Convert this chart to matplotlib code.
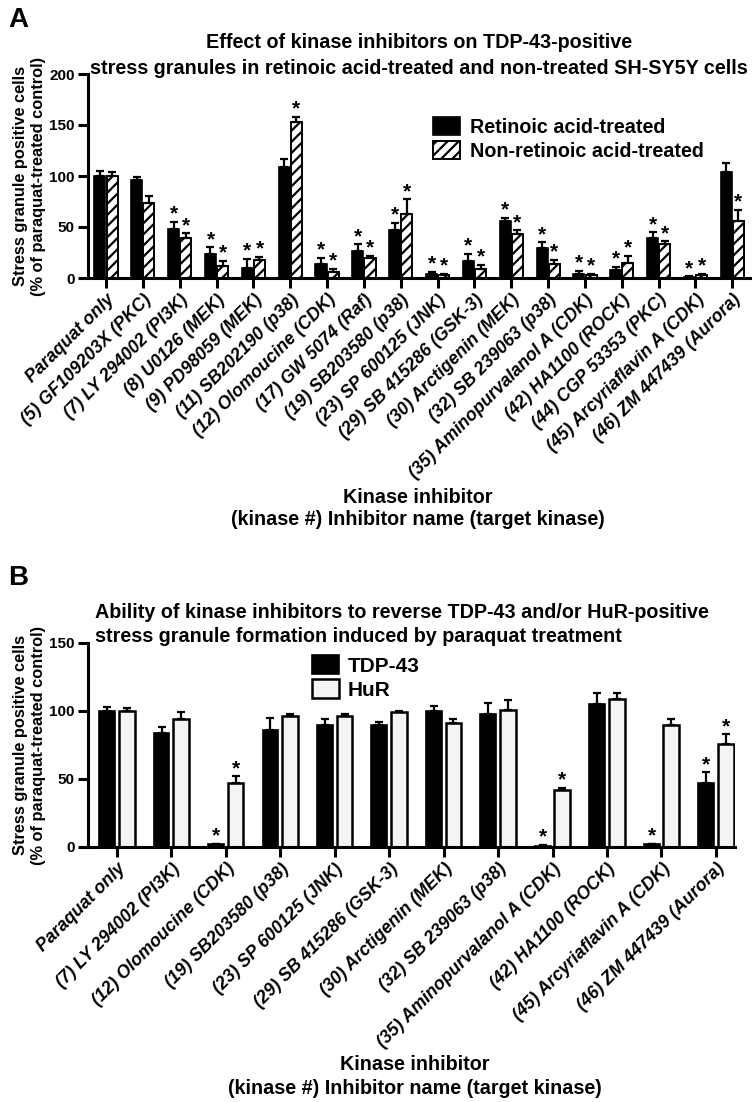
import numpy as np
import matplotlib
matplotlib.use("Agg")
import matplotlib.pyplot as plt

# ---- data: panel A ----
labels_a = ["Paraquat only", "(5) GF109203X (PKC)", "(7) LY 294002 (PI3K)", "(8) U0126 (MEK)",
            "(9) PD98059 (MEK)", "(11) SB202190 (p38)", "(12) Olomoucine (CDK)", "(17) GW 5074 (Raf)",
            "(19) SB203580 (p38)", "(23) SP 600125 (JNK)", "(29) SB 415286 (GSK-3)", "(30) Arctigenin (MEK)",
            "(32) SB 239063 (p38)", "(35) Aminopurvalanol A (CDK)", "(42) HA1100 (ROCK)", "(44) CGP 53353 (PKC)",
            "(45) Arcyriaflavin A (CDK)", "(46) ZM 447439 (Aurora)"]
ra_mean = [100, 96, 48, 24, 10, 109, 14, 26, 47, 4, 17, 56, 29, 4, 8, 39, 1, 104]
ra_err = [5, 3, 7, 6, 9, 8, 6, 7, 7, 2, 7, 3, 6, 3, 3, 6, 0.5, 9]
nra_mean = [100, 74, 39, 12, 18, 153, 6, 20, 63, 3, 9, 43, 14, 3, 15, 33, 3, 56]
nra_err = [4, 6, 5, 5, 3, 5, 3, 2, 14, 1, 4, 4, 4, 1, 7, 3, 1, 11]
ra_star = [0, 0, 1, 1, 1, 0, 1, 1, 1, 1, 1, 1, 1, 1, 1, 1, 1, 0]
nra_star = [0, 0, 1, 1, 1, 1, 1, 1, 1, 1, 1, 1, 1, 1, 1, 1, 1, 1]

# ---- data: panel B ----
labels_b = ["Paraquat only", "(7) LY 294002 (PI3K)", "(12) Olomoucine (CDK)", "(19) SB203580 (p38)",
            "(23) SP 600125 (JNK)", "(29) SB 415286 (GSK-3)", "(30) Arctigenin (MEK)", "(32) SB 239063 (p38)",
            "(35) Aminopurvalanol A (CDK)", "(42) HA1100 (ROCK)", "(45) Arcyriaflavin A (CDK)",
            "(46) ZM 447439 (Aurora)"]
tdp_mean = [100, 84, 2, 86, 90, 90, 100, 98, 1, 105, 2, 47]
tdp_err = [3, 4, 0.5, 9, 4, 2, 4, 8, 0.5, 8, 0.5, 8]
hur_mean = [100, 94, 47, 96, 96, 99.5, 91, 101, 42, 109, 90, 76]
hur_err = [2, 5, 5, 2, 2, 0.5, 3, 7, 1.5, 4, 4, 7]
tdp_star = [0, 0, 1, 0, 0, 0, 0, 0, 1, 0, 1, 1]
hur_star = [0, 0, 1, 0, 0, 0, 0, 0, 1, 0, 0, 1]

plt.rcParams['font.family'] = ['Liberation Sans', 'DejaVu Sans']
plt.rcParams['font.weight'] = 'bold'
plt.rcParams['hatch.linewidth'] = 1.6
plt.rcParams['axes.linewidth'] = 2.2

W, H = 752, 1102
fig = plt.figure(figsize=(W / 100, H / 100), dpi=100)


def fx(px):
    return px / W


def fy(py):
    return 1 - py / H


def draw_panel(ax, labels, m1, e1, s1, m2, e2, s2, off, bw, ymax, style2):
    x = np.arange(len(labels))
    ax.bar(x - off, m1, bw, color='black', edgecolor='black', linewidth=1.2, zorder=2)
    if style2 == 'hatch':
        ax.bar(x + off, m2, bw, color='white', edgecolor='black', linewidth=1.4, hatch='///', zorder=2)
    else:
        ax.bar(x + off, m2, bw, color='#f4f4f4', edgecolor='black', linewidth=1.8, zorder=2)
    for xs, m, e in ((x - off, m1, e1), (x + off, m2, e2)):
        ax.errorbar(xs, m, yerr=[np.zeros(len(m)), e], fmt='none', ecolor='black',
                    elinewidth=1.6, capsize=3, capthick=1.6, zorder=3)
    for xs, m, e, s in ((x - off, m1, e1, s1), (x + off, m2, e2, s2)):
        for xi, mi, ei, si in zip(xs, m, e, s):
            if si:
                ax.annotate("*", (xi, mi + ei), xytext=(0, 1.5), textcoords='offset points',
                            ha='center', va='baseline', fontsize=15, fontweight='bold')
    ax.set_ylim(0, ymax)
    ax.set_yticks(np.arange(0, ymax + 1, 50))
    ax.set_xticks(x)
    ax.set_xticklabels(labels, rotation=45, ha='right', rotation_mode='anchor',
                       fontsize=12.8, fontweight='bold', fontstyle='italic')
    for lab in ax.get_yticklabels():
        lab.set_fontsize(11)
        lab.set_fontweight('bold')
    ax.spines['top'].set_visible(False)
    ax.spines['right'].set_visible(False)
    ax.tick_params(axis='both', direction='out', length=7.5, width=2.2, pad=2)


# panel A
axA = fig.add_axes([fx(88), fy(278), fx(750) - fx(88), fy(74) - fy(278)])
draw_panel(axA, labels_a, ra_mean, ra_err, ra_star, nra_mean, nra_err, nra_star,
           0.165, 0.30, 200, 'hatch')
axA.set_xlim(-0.49, 17.48)
fig.text(fx(8), fy(20), "A", fontsize=20, fontweight='bold', va='center')
fig.text(fx(419), fy(43), "Effect of kinase inhibitors on TDP-43-positive", ha='center', va='center',
         fontsize=14.2, fontweight='bold')
fig.text(fx(419), fy(68), "stress granules in retinoic acid-treated and non-treated SH-SY5Y cells",
         ha='center', va='center', fontsize=14.2, fontweight='bold')
axA.legend(["Retinoic acid-treated", "Non-retinoic acid-treated"], loc='upper left',
           bbox_to_anchor=((433 - 88) / (750 - 88), 1 - (117 - 74) / 204),
           frameon=False, prop={'weight': 'bold', 'size': 14.2},
           handlelength=1.37, handleheight=1.05, handletextpad=0.5, labelspacing=0.2,
           borderaxespad=0, borderpad=0)

# panel B
axB = fig.add_axes([fx(88), fy(847), fx(735) - fx(88), fy(643) - fy(847)])
draw_panel(axB, labels_b, tdp_mean, tdp_err, tdp_star, hur_mean, hur_err, hur_star,
           0.18, 0.29, 150, 'plain')
axB.set_xlim(-0.53, 11.35)
fig.text(fx(8), fy(578), "B", fontsize=20, fontweight='bold', va='center')
fig.text(fx(95), fy(612), "Ability of kinase inhibitors to reverse TDP-43 and/or HuR-positive",
         ha='left', va='center', fontsize=14.2, fontweight='bold')
fig.text(fx(95), fy(637), "stress granule formation induced by paraquat treatment",
         ha='left', va='center', fontsize=14.2, fontweight='bold')
axB.legend(["TDP-43", "HuR"], loc='upper left',
           bbox_to_anchor=((312 - 88) / (735 - 88), 1 - (655 - 643) / 204),
           frameon=False, prop={'size': 15, 'weight': 'bold'},
           handlelength=1.3, handleheight=1.05, handletextpad=0.4, labelspacing=0.15,
           borderaxespad=0, borderpad=0)

# y labels and x labels
for cy in (176, 745):
    fig.text(fx(21), fy(cy), "Stress granule positive cells", rotation=90, ha='center', va='center',
             fontsize=11.8, fontweight='bold')
    fig.text(fx(39), fy(cy), "(% of paraquat-treated control)", rotation=90, ha='center', va='center',
             fontsize=11.8, fontweight='bold')
for cx, y1, y2 in ((418, 497, 519), (415, 1064, 1088)):
    fig.text(fx(cx), fy(y1), "Kinase inhibitor", ha='center', va='center', fontsize=14.2, fontweight='bold')
    fig.text(fx(cx), fy(y2), "(kinase #) Inhibitor name (target kinase)", ha='center', va='center',
             fontsize=14.2, fontweight='bold')

fig.savefig("out.png", dpi=100)
